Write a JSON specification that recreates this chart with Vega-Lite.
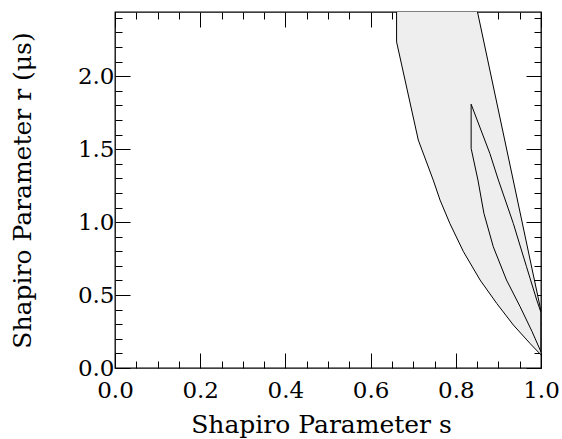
{
  "$schema": "https://vega.github.io/schema/vega-lite/v6.json",
  "width": 426,
  "height": 356,
  "autosize": "none",
  "padding": {"left": 115, "top": 12, "right": 21, "bottom": 71},
  "background": "white",
  "config": {
    "view": {"stroke": "black", "strokeWidth": 1.3},
    "axis": {
      "domain": false,
      "grid": false,
      "labelFont": "DejaVu Serif",
      "titleFont": "DejaVu Serif",
      "labelFontSize": 23,
      "titleFontSize": 25,
      "titleFontWeight": "normal",
      "labelColor": "black",
      "titleColor": "black",
      "tickColor": "black",
      "tickWidth": 1,
      "labelOverlap": false,
      "labelFlush": false,
      "labelBound": false
    }
  },
  "datasets": {
    "band": [
      {"r": 2.44, "sL": 0.661, "sR": 0.851},
      {"r": 2.235, "sL": 0.661, "sR": 0.866},
      {"r": 1.562, "sL": 0.712, "sR": 0.915},
      {"r": 1.288, "sL": 0.747, "sR": 0.935},
      {"r": 1.151, "sL": 0.763, "sR": 0.945},
      {"r": 0.991, "sL": 0.786, "sR": 0.956},
      {"r": 0.797, "sL": 0.818, "sR": 0.970},
      {"r": 0.603, "sL": 0.857, "sR": 0.985},
      {"r": 0.443, "sL": 0.896, "sR": 0.996},
      {"r": 0.39, "sL": 0.910, "sR": 1.0},
      {"r": 0.295, "sL": 0.935, "sR": 1.0},
      {"r": 0.169, "sL": 0.974, "sR": 1.0},
      {"r": 0.09, "sL": 1.0, "sR": 1.0}
    ],
    "contours": [
      {"contour": "outer", "ord": 1, "s": 0.661, "r": 2.44},
      {"contour": "outer", "ord": 2, "s": 0.661, "r": 2.235},
      {"contour": "outer", "ord": 3, "s": 0.712, "r": 1.562},
      {"contour": "outer", "ord": 4, "s": 0.747, "r": 1.288},
      {"contour": "outer", "ord": 5, "s": 0.763, "r": 1.151},
      {"contour": "outer", "ord": 6, "s": 0.786, "r": 0.991},
      {"contour": "outer", "ord": 7, "s": 0.818, "r": 0.797},
      {"contour": "outer", "ord": 8, "s": 0.857, "r": 0.603},
      {"contour": "outer", "ord": 9, "s": 0.896, "r": 0.443},
      {"contour": "outer", "ord": 10, "s": 0.935, "r": 0.295},
      {"contour": "outer", "ord": 11, "s": 0.974, "r": 0.169},
      {"contour": "outer", "ord": 12, "s": 1.0, "r": 0.09},
      {"contour": "outer", "ord": 13, "s": 1.0, "r": 0.39},
      {"contour": "outer", "ord": 14, "s": 0.851, "r": 2.44},
      {"contour": "inner", "ord": 1, "s": 0.836, "r": 1.505},
      {"contour": "inner", "ord": 2, "s": 0.852, "r": 1.288},
      {"contour": "inner", "ord": 3, "s": 0.866, "r": 1.06},
      {"contour": "inner", "ord": 4, "s": 0.888, "r": 0.831},
      {"contour": "inner", "ord": 5, "s": 0.919, "r": 0.603},
      {"contour": "inner", "ord": 6, "s": 0.951, "r": 0.42},
      {"contour": "inner", "ord": 7, "s": 0.979, "r": 0.25},
      {"contour": "inner", "ord": 8, "s": 1.0, "r": 0.11},
      {"contour": "inner", "ord": 9, "s": 1.0, "r": 0.38},
      {"contour": "inner", "ord": 10, "s": 0.99, "r": 0.466},
      {"contour": "inner", "ord": 11, "s": 0.966, "r": 0.694},
      {"contour": "inner", "ord": 12, "s": 0.935, "r": 0.991},
      {"contour": "inner", "ord": 13, "s": 0.9, "r": 1.288},
      {"contour": "inner", "ord": 14, "s": 0.88, "r": 1.47},
      {"contour": "inner", "ord": 15, "s": 0.836, "r": 1.808},
      {"contour": "inner", "ord": 16, "s": 0.836, "r": 1.505}
    ]
  },
  "layer": [
    {
      "data": {"name": "band"},
      "mark": {"type": "area", "orient": "horizontal", "color": "#eeeeee", "clip": true},
      "encoding": {
        "y": {
          "field": "r", "type": "quantitative",
          "scale": {"domain": [0, 2.44], "nice": false, "zero": false},
          "axis": {
            "orient": "left",
            "title": "Shapiro Parameter r (μs)",
            "values": [0,0.1,0.2,0.3,0.4,0.5,0.6,0.7,0.8,0.9,1.0,1.1,1.2,1.3,1.4,1.5,1.6,1.7,1.8,1.9,2.0,2.1,2.2,2.3,2.4],
            "tickSize": {"condition": {"test": "round(datum.value*10) % 5 === 0", "value": -15}, "value": -7},
            "labelExpr": "round(datum.value*10) % 5 === 0 ? format(datum.value, '.1f') : ''",
            "labelPadding": 16,
            "titlePadding": 42
          }
        },
        "x": {
          "field": "sL", "type": "quantitative",
          "scale": {"domain": [0, 1], "nice": false, "zero": false},
          "axis": {
            "orient": "bottom",
            "title": "Shapiro Parameter s",
            "titleX": 206,
            "values": [0,0.05,0.1,0.15,0.2,0.25,0.3,0.35,0.4,0.45,0.5,0.55,0.6,0.65,0.7,0.75,0.8,0.85,0.9,0.95,1.0],
            "tickSize": {"condition": {"test": "round(datum.value*20) % 4 === 0", "value": -15}, "value": -7},
            "labelExpr": "round(datum.value*20) % 4 === 0 ? format(datum.value, '.1f') : ''",
            "labelPadding": 26,
            "titlePadding": 2
          }
        },
        "x2": {"field": "sR"}
      }
    },
    {
      "data": {"name": "contours"},
      "mark": {"type": "line", "color": "black", "strokeWidth": 1, "clip": true},
      "encoding": {
        "x": {
          "field": "s", "type": "quantitative",
          "axis": {
            "orient": "top",
            "title": null,
            "labels": false,
            "values": [0,0.05,0.1,0.15,0.2,0.25,0.3,0.35,0.4,0.45,0.5,0.55,0.6,0.65,0.7,0.75,0.8,0.85,0.9,0.95,1.0],
            "tickSize": {"condition": {"test": "round(datum.value*20) % 4 === 0", "value": -15}, "value": -7}
          }
        },
        "y": {
          "field": "r", "type": "quantitative",
          "axis": {
            "orient": "right",
            "title": null,
            "labels": false,
            "values": [0,0.1,0.2,0.3,0.4,0.5,0.6,0.7,0.8,0.9,1.0,1.1,1.2,1.3,1.4,1.5,1.6,1.7,1.8,1.9,2.0,2.1,2.2,2.3,2.4],
            "tickSize": {"condition": {"test": "round(datum.value*10) % 5 === 0", "value": -15}, "value": -7}
          }
        },
        "detail": {"field": "contour", "type": "nominal"},
        "order": {"field": "ord", "type": "quantitative"}
      }
    }
  ],
  "resolve": {"axis": {"x": "independent", "y": "independent"}}
}
